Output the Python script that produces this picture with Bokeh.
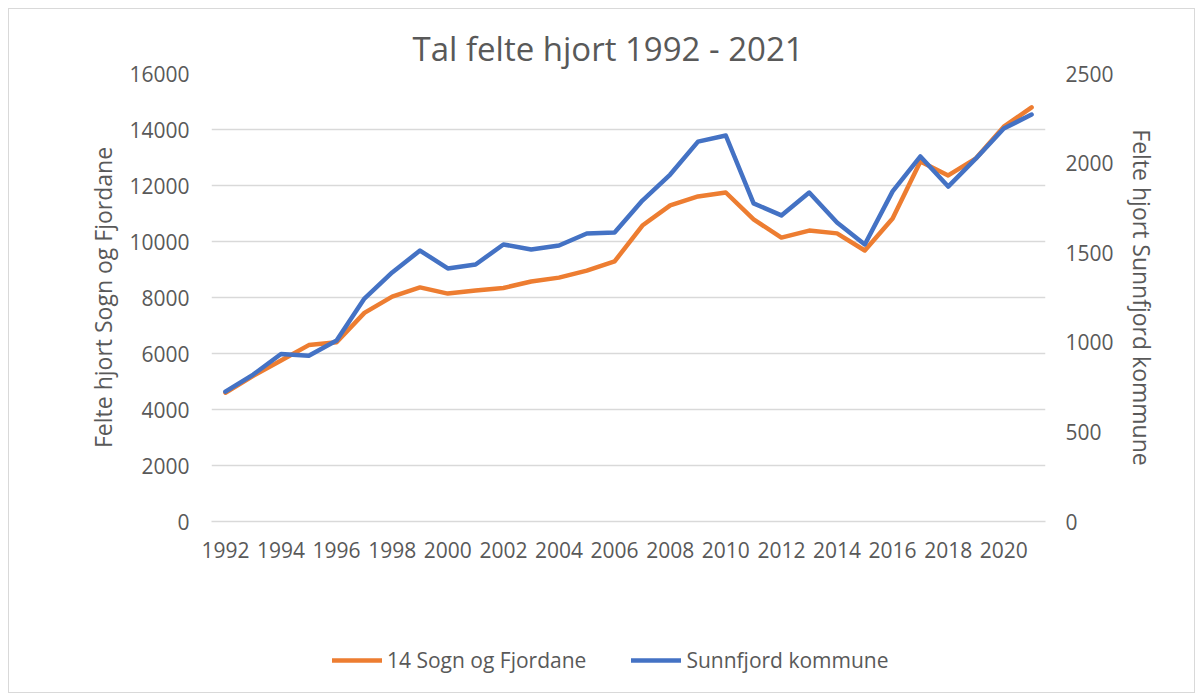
from bokeh.plotting import figure
from bokeh.models import (Range1d, LinearAxis, FixedTicker, Legend, LegendItem,
                          ColumnDataSource, Title)
from bokeh.layouts import column
from bokeh.embed import file_html
from bokeh.resources import INLINE

years = list(range(1992, 2022))
sogn_fjordane = [4600, 5200, 5750, 6300, 6400, 7450, 8030, 8360, 8140, 8250,
                 8340, 8570, 8710, 8960, 9290, 10570, 11290, 11610, 11750, 10790,
                 10140, 10390, 10290, 9680, 10820, 12860, 12360, 12970, 14100, 14790]
sunnfjord = [725, 820, 935, 925, 1010, 1244, 1390, 1512, 1412, 1434,
             1546, 1518, 1540, 1607, 1613, 1791, 1936, 2120, 2154, 1775,
             1708, 1836, 1669, 1546, 1842, 2037, 1869, 2026, 2193, 2271]
series_names = ["14 Sogn og Fjordane", "Sunnfjord kommune"]
x_ticks = list(range(1992, 2021, 2))
left_ticks = list(range(0, 16001, 2000))
right_ticks = list(range(0, 2501, 500))

TXT = "#595959"
GRID = "#d9d9d9"
FONT = "Open Sans"
ORANGE = "#ED7D31"
BLUE = "#4472C4"

src = ColumnDataSource(dict(year=years, sf=sogn_fjordane, sk=sunnfjord))

p = figure(width=1185, height=600, output_backend="svg", toolbar_location=None,
           x_range=Range1d(1991.5, 2021.5), y_range=Range1d(0, 16000),
           min_border_left=202, min_border_right=149, min_border_top=64,
           min_border_bottom=88)
p.outline_line_color = None
p.extra_y_ranges = {"right": Range1d(0, 2500)}

title = Title(text="Tal felte hjort 1992 - 2021", align="left", offset=201,
              text_font=FONT, text_font_size="33px", text_font_style="normal",
              text_color=TXT, standoff=6)
p.add_layout(title, "above")

p.xgrid.visible = False
p.ygrid.ticker = FixedTicker(ticks=left_ticks)
p.ygrid.grid_line_color = GRID
p.ygrid.grid_line_width = 1.5

xa = p.xaxis[0]
xa.ticker = FixedTicker(ticks=x_ticks)
xa.axis_line_color = GRID
xa.axis_line_width = 1.5
xa.major_tick_line_color = None
xa.minor_tick_line_color = None
xa.major_label_text_font = FONT
xa.major_label_text_font_size = "21px"
xa.major_label_text_color = TXT
xa.major_label_standoff = 14

ya = p.yaxis[0]
ya.ticker = FixedTicker(ticks=left_ticks)
ya.axis_line_color = None
ya.major_tick_line_color = None
ya.minor_tick_line_color = None
ya.major_label_text_font = FONT
ya.major_label_text_font_size = "21px"
ya.major_label_text_color = TXT
ya.major_label_standoff = 16
ya.axis_label = "Felte hjort Sogn og Fjordane"
ya.axis_label_text_font = FONT
ya.axis_label_text_font_size = "23px"
ya.axis_label_text_font_style = "normal"
ya.axis_label_text_color = TXT
ya.axis_label_standoff = 7

ra = LinearAxis(y_range_name="right", ticker=FixedTicker(ticks=right_ticks))
ra.axis_line_color = None
ra.major_tick_line_color = None
ra.minor_tick_line_color = None
ra.major_label_text_font = FONT
ra.major_label_text_font_size = "21px"
ra.major_label_text_color = TXT
ra.major_label_standoff = 14
ra.axis_label = "Felte hjort Sunnfjord kommune"
ra.axis_label_text_font = FONT
ra.axis_label_text_font_size = "23px"
ra.axis_label_text_font_style = "normal"
ra.axis_label_text_color = TXT
ra.axis_label_standoff = 9
p.add_layout(ra, "right")

p.line("year", "sf", source=src, line_color=ORANGE, line_width=4.5,
       line_join="round", line_cap="round")
p.line("year", "sk", source=src, y_range_name="right", line_color=BLUE,
       line_width=4.5, line_join="round", line_cap="round")

# legend strip below the chart (its lines lie outside its own view; only the legend shows)
q = figure(width=1185, height=83, output_backend="svg", toolbar_location=None,
           x_range=Range1d(0, 1), y_range=Range1d(0, 1),
           min_border_left=0, min_border_right=0, min_border_top=0,
           min_border_bottom=0)
q.outline_line_color = None
q.axis.visible = False
q.grid.visible = False
l1 = q.line("year", "sf", source=src, line_color=ORANGE, line_width=4.5, line_cap="round")
l2 = q.line("year", "sk", source=src, line_color=BLUE, line_width=4.5, line_cap="round")
legend = Legend(items=[LegendItem(label=series_names[0], renderers=[l1]),
                       LegendItem(label=series_names[1], renderers=[l2])],
                orientation="horizontal", location=(121, 18))
legend.padding = 0
legend.margin = 0
legend.border_line_color = None
legend.background_fill_alpha = 0
legend.glyph_width = 50
legend.glyph_height = 20
legend.label_standoff = 5
legend.spacing = 45
legend.label_text_font = FONT
legend.label_text_font_size = "21px"
legend.label_text_color = TXT
q.add_layout(legend, "center")

layout = column(p, q, spacing=0)
layout.styles = {"border": "1px solid #d9d9d9", "margin-left": "8px", "margin-top": "8px"}

open("out.html", "w").write(file_html(layout, INLINE))
